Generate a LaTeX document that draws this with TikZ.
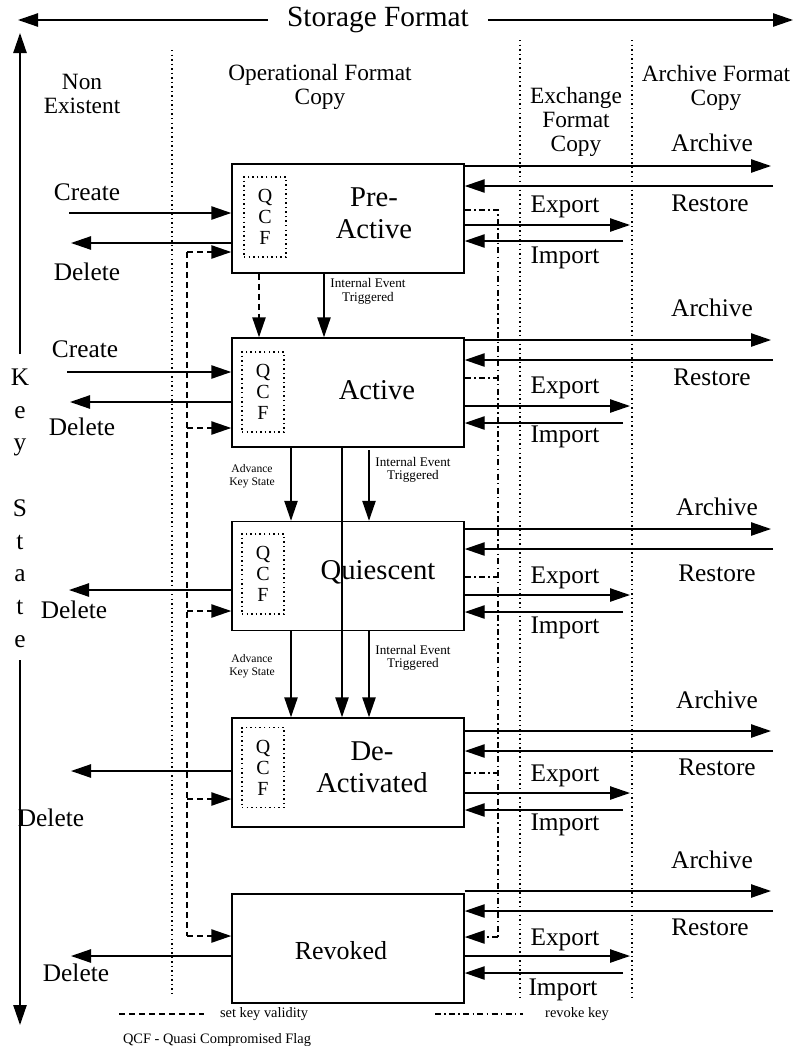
\documentclass[tikz,border=0pt]{standalone}
\usepackage{fontspec}
\setmainfont{Liberation Serif}
\usetikzlibrary{arrows.meta}
\begin{document}
\begin{tikzpicture}[x=0.75pt,y=-0.75pt,
  arr/.style={-{Triangle[length=15pt,width=10pt]}},
  ln/.style={line width=1.1pt},
  dotline/.style={line width=1.1pt, dash pattern=on 1.1pt off 2.3pt},
  dsh/.style={line width=1.1pt, dash pattern=on 4.5pt off 3pt},
  dd/.style={line width=1.1pt, dash pattern=on 4.5pt off 2.5pt on 1.1pt off 2.5pt},
  statebox/.style={draw, line width=1.1pt, minimum width=174pt, minimum height=81.75pt, inner sep=0},
  qcfbox/.style={draw, dotline, minimum width=31.5pt, minimum height=60pt, inner sep=0, align=center, font=\fontsize{15}{15.75}\selectfont},
  lbl/.style={font=\fontsize{19}{22}\selectfont, inner sep=0, text height=12.6pt, text depth=0pt},
  blbl/.style={font=\fontsize{21.5}{24}\selectfont, inner sep=0, align=center},
  hdr/.style={font=\fontsize{17.5}{18}\selectfont, inner sep=0, align=center},
  smalltxt/.style={font=\fontsize{9.9}{10}\selectfont, inner sep=0, align=center},
  tinytxt/.style={font=\fontsize{8.7}{10}\selectfont, inner sep=0, align=center},
  legtxt/.style={font=\fontsize{10.8}{12}\selectfont, inner sep=0},
  keyl/.style={font=\fontsize{19}{22}\selectfont, inner sep=0, anchor=base}
]
\useasboundingbox (0,0) rectangle (804,1046);

% Storage format
\node[font=\fontsize{22}{24}\selectfont, inner xsep=14pt, inner ysep=0] (sf) at (378,20) {Storage Format};
\coordinate (sfl) at (18,20);
\coordinate (sfr) at (793,20);
\draw[ln,arr] (sf) -- (sfl);
\draw[ln,arr] (sf) -- (sfr);

% Key State axis
\coordinate (kt) at (20,33);
\coordinate (kb) at (20,1025);
\coordinate (k1) at (20,354);
\coordinate (k2) at (20,660);
\draw[ln,arr] (k1) -- (kt);
\draw[ln,arr] (k2) -- (kb);
\node[keyl] (kK) at (20,385) {K};
\node[keyl] (ke1) at (20,418) {e};
\node[keyl] (ky) at (20,450) {y};
\node[keyl] (kS) at (20,516) {S};
\node[keyl] (kt1) at (20,549) {t};
\node[keyl] (ka) at (20,581) {a};
\node[keyl] (kt2) at (20,614) {t};
\node[keyl] (ke2) at (20,647) {e};

% column separators
\coordinate (s1a) at (172,50);  \coordinate (s1b) at (172,997);
\coordinate (s2a) at (520,40);  \coordinate (s2b) at (520,997);
\coordinate (s3a) at (632,40);  \coordinate (s3b) at (632,997);
\draw[dotline] (s1a) -- (s1b);
\draw[dotline] (s2a) -- (s2b);
\draw[dotline] (s3a) -- (s3b);

% headers
\node[hdr] (h1) at (82,93.5) {Non\\Existent};
\node[hdr] (h2) at (320,87) {Operational Format\\Copy};
\node[hdr] (h3) at (576,122) {Exchange\\Format\\Copy};
\node[hdr] (h4) at (716,88) {Archive Format\\Copy};

% state boxes
\node[statebox] (pre) at (348,218.5) {};
\node[statebox] (act) at (348,392.5) {};
\node[statebox] (qui) at (348,576) {};
\node[statebox] (dea) at (348,772.5) {};
\node[statebox] (rev) at (348,948.5) {};

\node[blbl] (preL) at (374,213.5) {Pre-\\Active};
\node[blbl] (actL) at (377,390) {Active};
\node[blbl] (quiL) at (378,572) {Quiescent};
\node[blbl] (deaL) at (372,767.5) {De-\\Activated};
\node[blbl, font=\fontsize{19.5}{22}\selectfont] (revL) at (341,951) {Revoked};

% QCF boxes
\node[qcfbox] (q1) at (265,217) {Q\\C\\F};
\node[qcfbox] (q2) at (263,392) {Q\\C\\F};
\node[qcfbox] (q3) at (263,574) {Q\\C\\F};
\node[qcfbox] (q4) at (263,767.5) {Q\\C\\F};

% left side create / delete
\coordinate (c1) at (69,213);
\coordinate (d1) at (71,243);
\coordinate (c2) at (67,372);
\coordinate (d2) at (70,402);
\coordinate (d3) at (69,590);
\coordinate (d4) at (71,771);
\coordinate (d5) at (71,956);
\draw[ln,arr] (c1) -- (pre.west |- c1);
\draw[ln,arr] (pre.west |- d1) -- (d1);
\draw[ln,arr] (c2) -- (act.west |- c2);
\draw[ln,arr] (act.west |- d2) -- (d2);
\draw[ln,arr] (qui.west |- d3) -- (d3);
\draw[ln,arr] (dea.west |- d4) -- (d4);
\draw[ln,arr] (rev.west |- d5) -- (d5);
\node[lbl] (cl1) at (87,192) {Create};
\node[lbl] (dl1) at (87,272) {Delete};
\node[lbl] (cl2) at (85,349) {Create};
\node[lbl] (dl2) at (82,427) {Delete};
\node[lbl] (dl3) at (74,610) {Delete};
\node[lbl] (dl4) at (51,818) {Delete};
\node[lbl] (dl5) at (76,973) {Delete};

% set key validity (dashed)
\coordinate (v1) at (187,252);
\coordinate (v2) at (187,428);
\coordinate (v3) at (187,611);
\coordinate (v4) at (187,799);
\coordinate (v5) at (187,936);
\draw[dsh] (v1) -- (v5);
\draw[dsh,arr] (v1) -- (pre.west |- v1);
\draw[dsh,arr] (v2) -- (act.west |- v2);
\draw[dsh,arr] (v3) -- (qui.west |- v3);
\draw[dsh,arr] (v4) -- (dea.west |- v4);
\draw[dsh,arr] (v5) -- (rev.west |- v5);
\coordinate (pv) at (259,0);
\draw[dsh,arr] (pre.south -| pv) -- (act.north -| pv);

% vertical transitions
\coordinate (x1) at (324,0);
\coordinate (x2) at (291,0);
\coordinate (x3) at (342,0);
\coordinate (x4) at (369,0);
\coordinate (ie) at (369,450);
\draw[ln,arr] (pre.south -| x1) -- (act.north -| x1);
\draw[ln,arr] (act.south -| x2) -- (qui.north -| x2);
\draw[ln,arr] (act.south -| x3) -- (dea.north -| x3);
\draw[ln,arr] (ie) -- (qui.north -| x4);
\draw[ln,arr] (qui.south -| x2) -- (dea.north -| x2);
\draw[ln,arr] (qui.south -| x4) -- (dea.north -| x4);
\node[smalltxt] (ie1) at (368,291.5) {Internal Event\\Triggered};
\node[tinytxt] (ak1) at (252,476.5) {Advance\\Key State};
\node[smalltxt] (ie2) at (413,470) {Internal Event\\Triggered};
\node[tinytxt] (ak2) at (252,666) {Advance\\Key State};
\node[smalltxt] (ie3) at (413,658) {Internal Event\\Triggered};

% revoke key (dash-dot)
\coordinate (r1) at (498,210);
\coordinate (r2) at (498,378);
\coordinate (r3) at (498,577);
\coordinate (r4) at (498,773);
\coordinate (r5) at (498,937);
\draw[dd] (pre.east |- r1) -- (r1) -- (r5);
\draw[dd] (act.east |- r2) -- (r2);
\draw[dd] (qui.east |- r3) -- (r3);
\draw[dd] (dea.east |- r4) -- (r4);
\draw[dd,arr] (r5) -- (rev.east |- r5);

% right side: archive / restore / export / import
\foreach \b/\ya/\yr/\ye/\yi/\lax/\lay/\lrx/\lry/\lex/\ley/\lix/\liy in {
  pre/166/186/225/241/712/143/710/203/565/204/565/255,
  act/340/360/406/423/712/308/712/377/565/385/565/434,
  qui/529/549/595/612/717/507/717/573/565/575/565/625,
  dea/731/751/793/810/717/700/717/767/565/773/565/822,
  rev/891/911/956/973/712/860/710/927/565/937/563/987}{
  \coordinate (\b A) at (771,\ya);
  \coordinate (\b R) at (773,\yr);
  \coordinate (\b E) at (630,\ye);
  \coordinate (\b I) at (623,\yi);
  \draw[ln,arr] (\b.east |- \b A) -- (\b A);
  \draw[ln,arr] (\b R) -- (\b.east |- \b R);
  \draw[ln,arr] (\b.east |- \b E) -- (\b E);
  \draw[ln,arr] (\b I) -- (\b.east |- \b I);
  \node[lbl] (\b LA) at (\lax,\lay) {Archive};
  \node[lbl] (\b LR) at (\lrx,\lry) {Restore};
  \node[lbl] (\b LE) at (\lex,\ley) {Export};
  \node[lbl] (\b LI) at (\lix,\liy) {Import};
}

% legend
\coordinate (la1) at (119,1014);
\coordinate (la2) at (204,1014);
\coordinate (lb1) at (435,1014);
\coordinate (lb2) at (523,1014);
\draw[dsh] (la1) -- (la2);
\draw[dd] (lb1) -- (lb2);
\node[legtxt] (lt1) at (264,1014) {set key validity};
\node[legtxt] (lt2) at (577,1014) {revoke key};
\node[legtxt] (lt3) at (217,1040) {QCF - Quasi Compromised Flag};
\end{tikzpicture}
\end{document}
